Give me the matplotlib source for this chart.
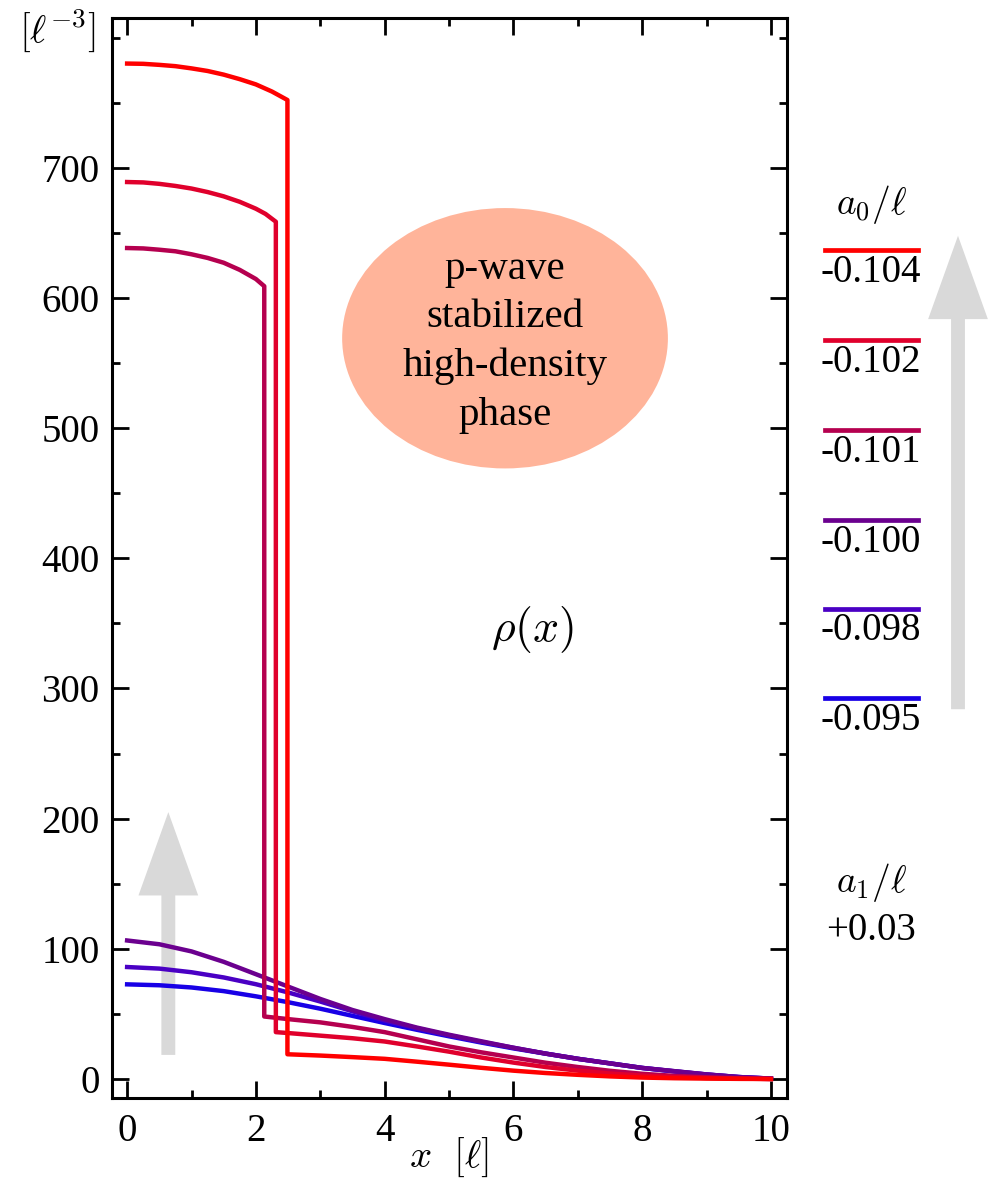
import numpy as np
import matplotlib
matplotlib.use("Agg")
from matplotlib import pyplot as plt
from matplotlib.patches import Ellipse, FancyArrowPatch

plt.rcParams['font.family'] = ['Liberation Serif', 'DejaVu Serif']
plt.rcParams['mathtext.fontset'] = 'cm'
plt.rcParams['font.size'] = 28

# a0/l values and curve colours (legend order: top to bottom)
a0_labels = ['-0.104', '-0.102', '-0.101', '-0.100', '-0.098', '-0.095']
colors = ['#ff0000', '#e0002c', '#b5004f', '#6b008f', '#4a00c4', '#1800e6']

# density profiles rho(x)
x_104 = [0, 0.25, 0.5, 0.75, 1.0, 1.25, 1.5, 1.75, 2.0, 2.25, 2.49,
         2.49, 3, 3.5, 4, 4.5, 5, 5.5, 6, 6.5, 7, 7.5, 8, 8.5, 9, 9.5, 10]
y_104 = [780, 779.8, 779, 778, 776.3, 774.3, 771.5, 768, 764, 758.5, 752,
         19, 18, 16.8, 15.5, 13.3, 11, 8.6, 6.4, 4.6, 3.2, 2, 1.1, 0.6, 0.3, 0.1, 0]
x_102 = [0, 0.25, 0.5, 0.75, 1.0, 1.25, 1.5, 1.75, 2.0, 2.15, 2.31,
         2.31, 2.5, 3, 3.5, 4, 4.5, 5, 5.5, 6, 6.5, 7, 7.5, 8, 8.5, 9, 9.5, 10]
y_102 = [689, 688.7, 687.6, 686, 684, 681.3, 678, 673.8, 668.5, 664.5, 658.5,
         36, 35.3, 33.3, 31.3, 28.8, 25, 21, 16.5, 12.6, 9.2, 6.4, 4.2, 2.6, 1.5, 0.8, 0.3, 0]
x_101 = [0, 0.25, 0.5, 0.75, 1.0, 1.25, 1.5, 1.75, 2.0, 2.13,
         2.13, 2.5, 3, 3.5, 4, 4.5, 5, 5.5, 6, 6.5, 7, 7.5, 8, 8.5, 9, 9.5, 10]
y_101 = [638.3, 638, 637, 635.8, 633.5, 630.7, 627, 621.5, 614.5, 609,
         48, 46, 43.5, 40, 36, 30.5, 25, 20.5, 16.5, 12.5, 9.2, 6.3, 4, 2.4, 1.3, 0.5, 0]
x_low = [0, 0.5, 1, 1.5, 2, 2.5, 3, 3.5, 4, 4.5, 5, 5.5, 6, 6.5, 7, 7.5, 8, 8.5, 9, 9.5, 10]
y_100 = [106.4, 103.5, 98, 90, 80.5, 71, 61.5, 53, 46, 39.5, 34, 29, 24,
         19.5, 15.5, 12, 8.5, 6, 3.5, 1.5, 0.3]
y_098 = [86, 84.8, 82, 78, 72.8, 66.5, 59.5, 52, 45, 39, 33.5, 28.5, 24,
         19.5, 15.5, 12, 8.5, 6, 3.5, 1.5, 0.3]
y_095 = [72.7, 72, 70.3, 67.5, 63.5, 59, 54, 48.5, 43, 37.8, 32.8, 28, 23.5,
         19.5, 15.5, 12, 8.5, 5.8, 3.4, 1.5, 0.3]

curves = [(x_104, y_104), (x_102, y_102), (x_101, y_101),
          (x_low, y_100), (x_low, y_098), (x_low, y_095)]

W, H = 993, 1178
fig = plt.figure(figsize=(W / 100, H / 100), dpi=100)
ax = fig.add_axes([112 / W, 1 - 1098 / H, (787 - 112) / W, (1098 - 18) / H])

arrow_style = 'simple,head_length=60,head_width=43,tail_width=10'

# grey arrow behind the curves
ax.annotate('', xy=(0.64, 205), xytext=(0.64, 18.5),
            arrowprops=dict(arrowstyle=arrow_style, mutation_scale=1,
                            color='#d9d9d9', lw=0, shrinkA=0, shrinkB=0), zorder=1)

for (xs, ys), c in reversed(list(zip(curves, colors))):
    ax.plot(xs, ys, color=c, lw=3.2, zorder=3, solid_joinstyle='round')

ax.add_patch(Ellipse((5.87, 569), width=5.06, height=200, color='#ffb49a', lw=0, zorder=2))
ax.text(5.87, 566, 'p-wave\nstabilized\nhigh-density\nphase', ha='center', va='center',
        linespacing=1.41, fontsize=29.5, zorder=4)
ax.text(6.29, 345, r'$\rho(x)$', ha='center', va='center', fontsize=33)

ax.set_xlim(-0.235, 10.25)
ax.set_ylim(-14.6, 815)
ax.set_xticks(np.arange(0, 11, 2))
ax.set_xticks(np.arange(0, 11, 1), minor=True)
ax.set_yticks(np.arange(0, 701, 100))
ax.set_yticks(np.arange(0, 801, 50), minor=True)
ax.tick_params(which='both', direction='in', top=True, right=True, width=2)
ax.tick_params(which='major', length=12, labelsize=28)
ax.tick_params(which='minor', length=6)
ax.tick_params(axis='x', pad=11)
ax.tick_params(axis='y', pad=9)
for s in ax.spines.values():
    s.set_linewidth(2.2)

fig.text(449.5 / W, 1 - 1157 / H, r'$x\ \ [\ell]$', ha='center', va='center', fontsize=28)
fig.text(57 / W, 1 - 30 / H, r'$[\ell^{-3}]$', ha='center', va='center', fontsize=28)

# legend drawn by hand to the right of the axes
leg_y = [250, 340, 430, 520, 609, 698]
for yy, c, lab in zip(leg_y, colors, a0_labels):
    fig.add_artist(plt.Line2D([825 / W, 918 / W], [1 - yy / H, 1 - yy / H],
                              color=c, lw=3.4, transform=fig.transFigure))
    fig.text(871 / W, 1 - (yy + 22) / H, lab, ha='center', va='center', fontsize=28)
fig.text(871 / W, 1 - 205 / H, r'$a_0/\ell$', ha='center', va='center', fontsize=27)
fig.text(871 / W, 1 - 883 / H, r'$a_1/\ell$', ha='center', va='center', fontsize=27)
fig.text(871 / W, 1 - 930 / H, '+0.03', ha='center', va='center', fontsize=28)

fig.add_artist(FancyArrowPatch((958, H - 712), (958, H - 233), transform=None,
                               mutation_scale=1, arrowstyle=arrow_style,
                               color='#d9d9d9', lw=0))

fig.savefig('out.png', dpi=100)
